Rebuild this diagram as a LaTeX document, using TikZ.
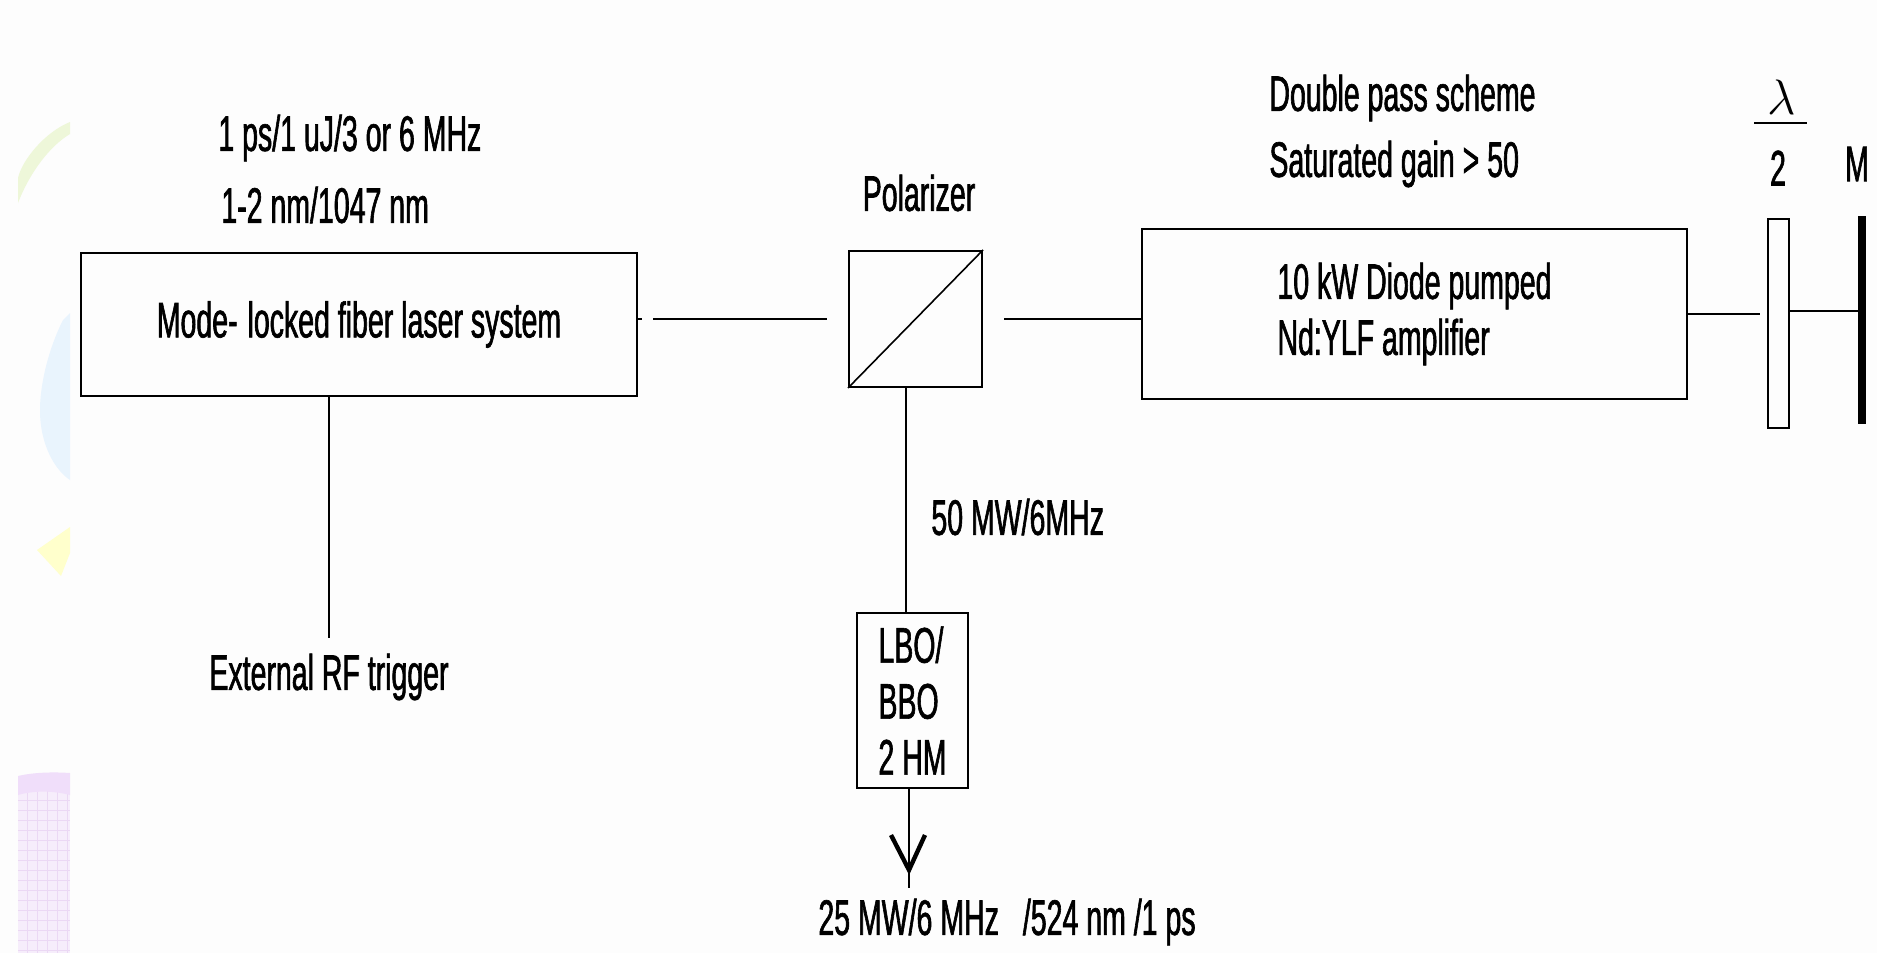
\documentclass[tikz,border=0pt]{standalone}
\usepackage{fontspec}
\setmainfont{Liberation Sans}[FakeStretch=0.57,FakeBold=1.2]
\usetikzlibrary{calc}
\begin{document}
\begin{tikzpicture}[x=0.5pt,y=-0.5pt,
  txt/.style={inner sep=0pt, font=\fontsize{25}{28}\selectfont},
  box/.style={draw, line width=1pt, inner sep=0pt, font=\fontsize{25}{28}\selectfont},
  conn/.style={line width=1pt}]
\definecolor{bgc}{HTML}{FDFDFD}
\definecolor{palegreen}{HTML}{EEF7D9}
\definecolor{paleblue}{HTML}{E9F4FD}
\definecolor{paleyellow}{HTML}{FFFFCC}
\definecolor{palepink}{HTML}{F6EDFB}
\definecolor{pinkband}{HTML}{F0DEFA}
\definecolor{pinkline}{HTML}{EBD8F4}
\fill[bgc] (0,0) rectangle (1877,953);
\useasboundingbox (0,0) rectangle (1877,953);
% left-strip decorations
\fill[palegreen] (70,122) .. controls (45,132) and (22,160) .. (18,178) -- (18,203)
  .. controls (30,172) and (50,146) .. (70,134) -- cycle;
\fill[paleblue] (70,313) -- (63,320) .. controls (48,350) and (40,385) .. (40,410)
  .. controls (40,445) and (55,470) .. (70,480) -- cycle;
\fill[paleyellow] (70,527) -- (37,550) -- (61,576) -- (70,553) -- cycle;
\fill[palepink] (18,790) rectangle (70,953);
\begin{scope}
\clip (18,790) rectangle (70,953);
\foreach \gx in {27,37,47,57,67} \draw[pinkline, line width=0.4pt] (\gx,790) -- (\gx,953);
\foreach \gy in {800,810,...,950} \draw[pinkline, line width=0.4pt] (18,\gy) -- (70,\gy);
\end{scope}
\fill[pinkband] (18,776) .. controls (35,772) and (55,772) .. (70,773) -- (70,795)
  .. controls (55,791) and (35,790) .. (18,795) -- cycle;

% nodes
\node[box, minimum width=278pt, minimum height=71.5pt] (laser) at (359,324.5)
  {Mode-\hspace{5pt}locked fiber laser system};
\node[box, minimum width=66.5pt, minimum height=68pt] (pol) at (915.5,319) {};
\draw[line width=0.8pt] (pol.south west) -- (pol.north east);
\node[box, minimum width=55.5pt, minimum height=87.5pt, align=left] (lbo) at (912.5,700.5)
  {LBO/\\BBO\\2 HM};
\node[box, minimum width=272.5pt, minimum height=85pt, align=left] (amp) at (1414.5,314)
  {10 kW Diode pumped\\Nd:YLF amplifier};
\node[draw, line width=1pt, inner sep=0pt, minimum width=10.5pt, minimum height=104.5pt] (wp) at (1778.5,323.5) {};
\node[fill=black, inner sep=0pt, minimum width=4pt, minimum height=104pt] (mir) at (1862,320) {};

% labels
\node[txt, anchor=west] (t1) at (218,138) {1 ps/1 uJ/3 or 6 MHz};
\node[txt, anchor=west] (t2) at (221,205) {1-2 nm/1047 nm};
\node[txt] (polt) at (919,193) {Polarizer};
\node[txt, anchor=west] (mw50) at (931,517) {50 MW/6MHz};
\node[txt] (trig) at (329,677) {External RF trigger};
\node[txt, anchor=west] (out) at (818,922) {25 MW/6 MHz\hspace{12pt}/524 nm /1 ps};
\node[txt, anchor=west] (dps) at (1269,98) {Double pass scheme};
\node[txt, anchor=west] (sat) at (1269,164) {Saturated gain > 50};
\node[inner sep=0pt, font=\fontsize{34}{34}\selectfont] (lam) at (1782,97) {$\lambda$};
\coordinate (barl) at (1754,123);
\coordinate (barr) at (1807,123);
\draw[line width=1pt] (barl) -- (barr);
\node[txt] (two) at (1778,168) {2};
\node[txt] (mlab) at (1857,164) {M};

% connectors
\draw[conn] (laser.east |- pol.west) -- ++(4,0);
\draw[conn] ([xshift=7.5pt]laser.east |- pol.west) -- ([xshift=-10.5pt]pol.west);
\draw[conn] ([xshift=10.5pt]pol.east) -- (amp.west |- pol.east);
\coordinate (trigtop) at (329,638);
\draw[conn] (laser.south -| trigtop) -- (trigtop);
\coordinate (polout) at (906,387);
\draw[conn] (polout) -- (polout |- lbo.north);
\coordinate (lboout) at (909,788);
\coordinate (tip) at (909,870);
\coordinate (endp) at (909,888);
\draw[conn] (lboout) -- (endp);
\draw[line width=2.2pt] ($(tip)+(-18,-35)$) -- (tip) -- ($(tip)+(16,-35)$);
\draw[conn] (amp.east) -- ([xshift=-3.5pt]amp.east -| wp.west);
\draw[conn] (wp.east |- 0,311) -- (mir.west |- 0,311);
\end{tikzpicture}
\end{document}
